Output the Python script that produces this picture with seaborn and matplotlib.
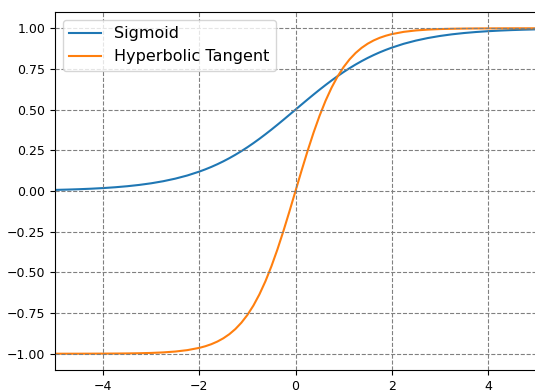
import matplotlib
matplotlib.use("Agg")
import matplotlib.pyplot as plt
import seaborn as sns
import pandas as pd

x = [-5, -4.75, -4.5, -4.25, -4, -3.75, -3.5, -3.25, -3, -2.75, -2.5, -2.25, -2,
     -1.875, -1.75, -1.625, -1.5, -1.375, -1.25, -1.125, -1, -0.875, -0.75, -0.625, -0.5, -0.375, -0.25, -0.125,
     0,
     0.125, 0.25, 0.375, 0.5, 0.625, 0.75, 0.875, 1, 1.125, 1.25, 1.375, 1.5, 1.625, 1.75, 1.875,
     2, 2.25, 2.5, 2.75, 3, 3.25, 3.5, 3.75, 4, 4.25, 4.5, 4.75, 5]

sigmoid = [0.0067, 0.0086, 0.0110, 0.0141, 0.0180, 0.0230, 0.0293, 0.0373, 0.0474, 0.0601, 0.0759, 0.0953, 0.1192,
           0.1330, 0.1480, 0.1645, 0.1824, 0.2018, 0.2227, 0.2451, 0.2689, 0.2942, 0.3208, 0.3487, 0.3775, 0.4073, 0.4378, 0.4688,
           0.5000,
           0.5312, 0.5622, 0.5927, 0.6225, 0.6513, 0.6792, 0.7058, 0.7311, 0.7549, 0.7773, 0.7982, 0.8176, 0.8355, 0.8520, 0.8670,
           0.8808, 0.9047, 0.9241, 0.9399, 0.9526, 0.9627, 0.9707, 0.9770, 0.9820, 0.9859, 0.9890, 0.9914, 0.9933]

tanh = [-0.9999, -0.9999, -0.9998, -0.9996, -0.9993, -0.9989, -0.9982, -0.9970, -0.9951, -0.9919, -0.9866, -0.9780, -0.9640,
        -0.9540, -0.9414, -0.9253, -0.9051, -0.8798, -0.8483, -0.8093, -0.7616, -0.7039, -0.6351, -0.5546, -0.4621, -0.3584, -0.2449, -0.1244,
        0.0,
        0.1244, 0.2449, 0.3584, 0.4621, 0.5546, 0.6351, 0.7039, 0.7616, 0.8093, 0.8483, 0.8798, 0.9051, 0.9253, 0.9414, 0.9540,
        0.9640, 0.9780, 0.9866, 0.9919, 0.9951, 0.9970, 0.9982, 0.9989, 0.9993, 0.9996, 0.9998, 0.9999, 0.9999]

series_names = ["Sigmoid", "Hyperbolic Tangent"]

df = pd.DataFrame({
    "x": x + x,
    "y": sigmoid + tanh,
    "series": [series_names[0]] * len(x) + [series_names[1]] * len(x),
})

plt.rcParams["font.family"] = ["DejaVu Sans"]
fig = plt.figure(figsize=(5.35, 3.91), dpi=100)
ax = fig.add_axes([55 / 535, 1 - 370 / 391, 481 / 535, 358 / 391])
sns.lineplot(data=df, x="x", y="y", hue="series", hue_order=series_names,
             palette=["#1f77b4", "#ff7f0e"], linewidth=1.5, ax=ax, sort=False)
ax.set_xlim(-5, 5)
ax.set_ylim(-1.1, 1.1)
ax.set_xticks([-4, -2, 0, 2, 4])
ax.set_yticks([-1.0, -0.75, -0.5, -0.25, 0, 0.25, 0.5, 0.75, 1.0])
ax.set_yticklabels([f"{v:.2f}".replace("-", "\u2212") for v in [-1.0, -0.75, -0.5, -0.25, 0, 0.25, 0.5, 0.75, 1.0]])
ax.set_xticklabels([str(v).replace("-", "\u2212") for v in [-4, -2, 0, 2, 4]])
ax.set_xlabel("")
ax.set_ylabel("")
ax.tick_params(labelsize=9, length=3.5, direction="out")
ax.grid(True, linestyle="--", color="gray", linewidth=0.8)
ax.set_axisbelow(False)
leg = ax.legend(loc="upper left", fontsize=11.5, title=None)
fig.savefig("out.png", dpi=100)
